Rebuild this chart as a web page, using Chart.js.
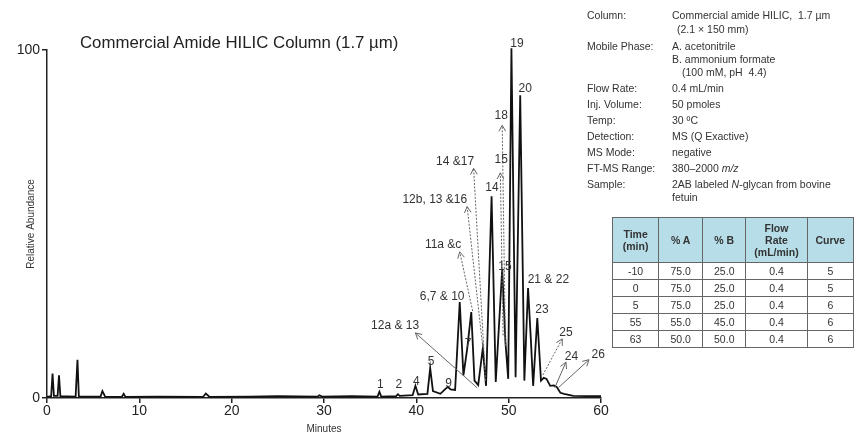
<!DOCTYPE html>
<html lang="en">
<head>
<meta charset="UTF-8">
<title>Commercial Amide HILIC Column (1.7 µm)</title>
<style>
  body { margin: 0; background: #fff; font-family: Arial, "Liberation Sans", sans-serif; color: #222; }
  #wrap { position: relative; width: 854px; height: 435px; overflow: hidden; }
  #chart { position: absolute; left: 0; top: 0; }
  #title { position: absolute; left: 80px; top: 33px; font-size: 16.8px; white-space: nowrap; color: #222; }
  .info { position: absolute; font-size: 10.5px; line-height: 12px; white-space: nowrap; color: #333; }
  .lab { left: 587px; }
  .val { left: 672px; }
  #grad { position: absolute; left: 612px; top: 217px; border-collapse: collapse; font-size: 10.5px; color: #333; }
  #grad th, #grad td { border: 1.5px solid #666; text-align: center; padding: 0; }
  #grad th { background: #b7dde8; font-weight: bold; height: 44px; line-height: 12px; }
  #grad td { height: 16px; }
</style>
</head>
<body>
<div id="wrap">
  <canvas id="chart" width="854" height="435"></canvas>
  <div id="title">Commercial Amide HILIC Column (1.7 µm)</div>

  <div class="info lab" style="top:9px">Column:</div>
  <div class="info val" style="top:9px">Commercial amide HILIC,&nbsp; 1.7 µm</div>
  <div class="info val" style="top:23px; left:677px">(2.1 × 150 mm)</div>
  <div class="info lab" style="top:40px">Mobile Phase:</div>
  <div class="info val" style="top:40px">A. acetonitrile</div>
  <div class="info val" style="top:53px">B. ammonium formate</div>
  <div class="info val" style="top:66px; left:682px">(100 mM, pH&nbsp; 4.4)</div>
  <div class="info lab" style="top:82px">Flow Rate:</div>
  <div class="info val" style="top:82px">0.4 mL/min</div>
  <div class="info lab" style="top:98px">Inj. Volume:</div>
  <div class="info val" style="top:98px">50 pmoles</div>
  <div class="info lab" style="top:114px">Temp:</div>
  <div class="info val" style="top:114px">30 ºC</div>
  <div class="info lab" style="top:130px">Detection:</div>
  <div class="info val" style="top:130px">MS (Q Exactive)</div>
  <div class="info lab" style="top:146px">MS Mode:</div>
  <div class="info val" style="top:146px">negative</div>
  <div class="info lab" style="top:162px">FT-MS Range:</div>
  <div class="info val" style="top:162px">380–2000 <i>m/z</i></div>
  <div class="info lab" style="top:178px">Sample:</div>
  <div class="info val" style="top:178px">2AB labeled <i>N</i>-glycan from bovine</div>
  <div class="info val" style="top:191px">fetuin</div>

  <table id="grad">
    <thead><tr id="gradHead"></tr></thead>
    <tbody id="gradBody"></tbody>
  </table>
</div>

<script src="https://cdn.jsdelivr.net/npm/chart.js"></script>
<script>
  // chromatogram trace (minutes, % relative abundance)
  var times = [0, 0.45, 0.6, 0.75, 1.15, 1.3, 1.45, 3.1, 3.3, 3.45, 5.8, 6.0, 6.3, 8.1, 8.3, 8.5,
    12, 16.9, 17.2, 17.6, 22, 25, 29.3, 29.5, 29.8, 33, 35.8, 36.0, 36.2, 37.8, 38.0, 38.2,
    39.6, 39.9, 40.2, 41.2, 41.5, 41.8, 42.6, 43.1, 43.4, 43.7, 44.2, 44.7, 45.1, 45.5, 45.95,
    46.3, 46.7, 47.2, 47.55, 48.15, 48.6, 49.3, 49.65, 49.95, 50.3, 50.75, 51.25, 51.7, 52.1,
    52.4, 52.65, 53.1, 53.5, 53.8, 54.1, 54.5, 54.9, 55.2, 55.6, 56.0, 57, 60];
  var abundance = [0.3, 0.5, 7, 0.6, 0.6, 6.5, 0.5, 0.4, 11, 0.4, 0.4, 2, 0.4, 0.3, 1.2, 0.3,
    0.4, 0.3, 1.3, 0.3, 0.4, 0.5, 0.4, 0.8, 0.4, 0.5, 0.4, 1.8, 0.4, 0.5, 1.1, 0.6,
    0.8, 3.5, 1.0, 1.2, 8.6, 2.0, 1.2, 2.5, 3.2, 2.5, 2.3, 27.6, 6.5, 14, 24.7,
    5, 3.7, 14.3, 3.5, 58, 4.6, 37, 16, 5.5, 100.5, 6, 87, 5, 31.6,
    17, 3.5, 23, 5, 5.8, 5.5, 3.5, 3.6, 3.2, 1.5, 1.2, 0.6, 0.5];

  var xTicks = [0, 10, 20, 30, 40, 50, 60];
  var yTicks = [0, 100];

  // peak labels (minutes, %)
  var peakText = ['1', '2', '4', '5', '9', '6,7 & 10', '7', '12a & 13', '11a &c', '12b, 13 &16',
    '14 &17', '14', '15', '18', '15', '19', '20', '21 & 22', '23', '25', '24', '26'];
  var peakTextX = [36.1, 38.1, 40.0, 41.6, 43.5, 42.8, 45.6, 37.7, 42.9, 42.0,
    44.2, 48.2, 49.2, 49.2, 49.6, 50.9, 51.8, 54.3, 53.6, 56.2, 56.8, 59.7];
  var peakTextY = [3.7, 3.7, 4.6, 10.3, 4.0, 29, 15.5, 20.7, 44, 57,
    67.8, 60.3, 68.4, 81, 37.6, 101.7, 89, 33.9, 25.3, 18.7, 11.8, 12.4];

  // annotation arrows: tail -> head (minutes, %), dotted or solid
  var arrowTailX = [46.6, 46.1, 47.2, 47.5, 49.4, 49.65, 53.7, 55.0, 55.4];
  var arrowTailY = [2.9, 25, 14.5, 5, 18, 15, 6.6, 3, 3];
  var arrowHeadX = [39.9, 44.7, 45.5, 46.2, 49.1, 49.3, 55.8, 56.2, 58.7];
  var arrowHeadY = [18.7, 42, 55, 66, 64.7, 78.4, 17, 10.3, 11];
  var arrowDotted = [false, true, true, true, true, true, true, false, false];

  // gradient table
  var gradHeaders = ['Time<br>(min)', '% A', '% B', 'Flow<br>Rate<br>(mL/min)', 'Curve'];
  var gradTime = ['-10', '0', '5', '55', '63'];
  var gradA = ['75.0', '75.0', '75.0', '55.0', '50.0'];
  var gradB = ['25.0', '25.0', '25.0', '45.0', '50.0'];
  var gradFlow = ['0.4', '0.4', '0.4', '0.4', '0.4'];
  var gradCurve = ['5', '5', '6', '6', '6'];
  var gradWidths = [46, 44, 43, 61, 46];

  var head = document.getElementById('gradHead');
  gradHeaders.forEach(function (h, i) {
    head.innerHTML += '<th style="width:' + gradWidths[i] + 'px">' + h + '</th>';
  });
  var body = document.getElementById('gradBody');
  for (var r = 0; r < gradTime.length; r++) {
    body.innerHTML += '<tr><td>' + gradTime[r] + '</td><td>' + gradA[r] + '</td><td>' +
      gradB[r] + '</td><td>' + gradFlow[r] + '</td><td>' + gradCurve[r] + '</td></tr>';
  }

  var points = times.map(function (t, i) { return { x: t, y: abundance[i] }; });

  var overlay = {
    id: 'overlay',
    afterDatasetsDraw: function (chart) {
      var ctx = chart.ctx, xs = chart.scales.x, ys = chart.scales.y;
      ctx.save();
      ctx.lineWidth = 1;
      ctx.strokeStyle = '#666';
      for (var i = 0; i < arrowHeadX.length; i++) {
        var x1 = xs.getPixelForValue(arrowTailX[i]), y1 = ys.getPixelForValue(arrowTailY[i]);
        var x2 = xs.getPixelForValue(arrowHeadX[i]), y2 = ys.getPixelForValue(arrowHeadY[i]);
        ctx.setLineDash(arrowDotted[i] ? [2, 1.5] : []);
        ctx.beginPath();
        ctx.moveTo(x1, y1);
        ctx.lineTo(x2, y2);
        ctx.stroke();
        // open arrow head
        var a = Math.atan2(y2 - y1, x2 - x1);
        ctx.setLineDash([]);
        ctx.beginPath();
        ctx.moveTo(x2 - 7 * Math.cos(a - 0.5), y2 - 7 * Math.sin(a - 0.5));
        ctx.lineTo(x2, y2);
        ctx.lineTo(x2 - 7 * Math.cos(a + 0.5), y2 - 7 * Math.sin(a + 0.5));
        ctx.stroke();
      }
      ctx.font = '12px Arial';
      ctx.fillStyle = '#333';
      ctx.textAlign = 'center';
      ctx.textBaseline = 'middle';
      for (var j = 0; j < peakText.length; j++) {
        ctx.fillText(peakText[j], xs.getPixelForValue(peakTextX[j]), ys.getPixelForValue(peakTextY[j]));
      }
      // y axis title
      ctx.translate(31, (chart.chartArea.top + chart.chartArea.bottom) / 2);
      ctx.rotate(-Math.PI / 2);
      ctx.font = '10px Arial';
      ctx.fillText('Relative Abundance', 0, 0);
      ctx.restore();
    }
  };

  new Chart(document.getElementById('chart'), {
    type: 'line',
    data: {
      datasets: [{
        data: points,
        borderColor: '#111',
        borderWidth: 1.8,
        pointRadius: 0,
        tension: 0,
        fill: false,
        clip: false
      }]
    },
    options: {
      responsive: false,
      animation: false,
      layout: { padding: { top: 50, right: 253, left: 0, bottom: 0 } },
      plugins: { legend: { display: false }, tooltip: { enabled: false } },
      scales: {
        x: {
          type: 'linear',
          min: 0, max: 60,
          afterFit: function (s) { s.height = 37; },
          afterBuildTicks: function (s) { s.ticks = xTicks.map(function (v) { return { value: v }; }); },
          grid: { display: true, drawOnChartArea: false, tickLength: 5, color: '#222', lineWidth: 1.5 },
          border: { display: true, color: '#222', width: 1.5 },
          ticks: { color: '#222', font: { family: 'Arial', size: 14 }, padding: 0, maxRotation: 0 },
          title: { display: true, text: 'Minutes', color: '#333', font: { family: 'Arial', size: 10 }, padding: { top: 0, bottom: 0 } }
        },
        y: {
          min: 0, max: 100,
          afterFit: function (s) { s.width = 47; },
          afterBuildTicks: function (s) { s.ticks = yTicks.map(function (v) { return { value: v }; }); },
          grid: { display: true, drawOnChartArea: false, tickLength: 5, color: '#222', lineWidth: 1.5 },
          border: { display: true, color: '#222', width: 1.5 },
          ticks: { color: '#222', font: { family: 'Arial', size: 14 }, padding: 2 }
        }
      }
    },
    plugins: [overlay]
  });
</script>
</body>
</html>
